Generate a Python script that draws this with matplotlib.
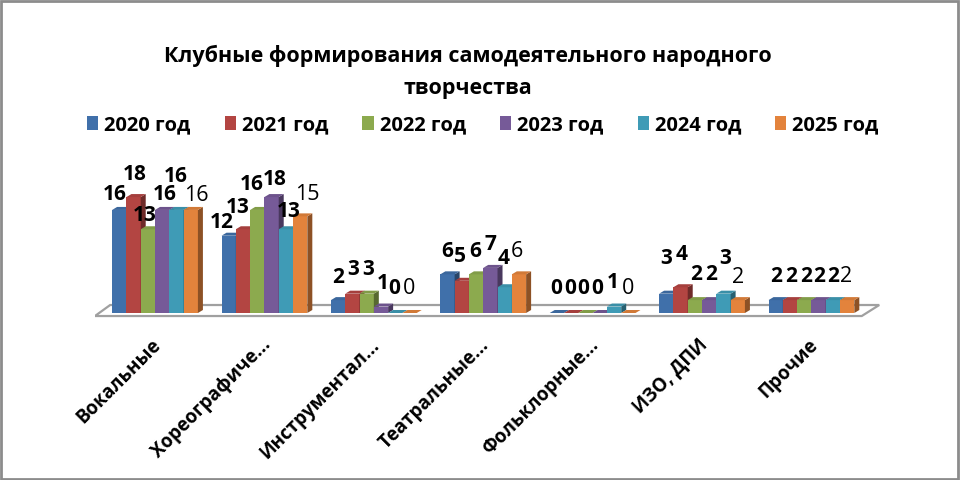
import matplotlib.pyplot as plt
from matplotlib.patches import Polygon, Rectangle
from matplotlib.transforms import ScaledTranslation
import numpy as np

plt.rcParams['font.family'] = ['Open Sans', 'DejaVu Sans']

categories = ['Вокальные', 'Хореографиче...', 'Инструментал...', 'Театральные...',
              'Фольклорные...', 'ИЗО, ДПИ', 'Прочие']
years = ['2020 год', '2021 год', '2022 год', '2023 год', '2024 год', '2025 год']
v2020 = [16, 12, 2, 6, 0, 3, 2]
v2021 = [18, 13, 3, 5, 0, 4, 2]
v2022 = [13, 16, 3, 6, 0, 2, 2]
v2023 = [16, 18, 1, 7, 0, 2, 2]
v2024 = [16, 13, 0, 4, 1, 3, 2]
v2025 = [16, 15, 0, 6, 0, 2, 2]
series = [v2020, v2021, v2022, v2023, v2024, v2025]

colors = ['#4070AA', '#B34542', '#8CAA4E', '#765A98', '#3F9BB6', '#E3833C']

# label nudges in pixels (Excel staggers the 3D labels)
lab_dy = [[15, 13, 23, 23, 24, 35, 24],
          [23, 22, 24, 24, 24, 33, 24],
          [14, 25, 24, 23, 24, 26, 24],
          [15, 18, 23, 23, 24, 26, 24],
          [33, 18, 24, 29, 24, 35, 24],
          [14, 22, 24, 23, 24, 23, 24]]
lab_dx = [[-5, -7, 0, 0, -1, 0, 0],
          [1, -5, 1, -2, -1, 1, 1],
          [-3, -6, 1, -1, -2, 1, 2],
          [3, 3, 2, 0, -3, 2, 1],
          [-1, 3, -1, -1, -1, 2, 0],
          [6, 7, -1, -2, 0, 0, -1]]


def shade(c, f):
    r, g, b = [int(c[i:i + 2], 16) / 255 for i in (1, 3, 5)]
    return (r * f, g * f, b * f)


fig = plt.figure(figsize=(9.6, 4.8), dpi=100)
ax = fig.add_axes([0.0988, 0.3278, 0.8205, 0.2885])
ax.set_xlim(-0.55, 6.65)
ax.set_ylim(-1.5, 20)

x = np.arange(len(categories))
w = 0.1307
ddx = 5 / 109.4   # depth offset
ddy = 3 / 6.44

# floor
floor = Polygon([(-0.549, -0.47), (6.46, -0.47), (6.62, 1.24), (-0.41, 1.24)],
                closed=True, facecolor='white', edgecolor='#a0a0a0', lw=1.6, zorder=1)
ax.add_patch(floor)

handles = []
for k, vals in enumerate(series):
    xs = x + (k - 2.5) * w
    bars = ax.bar(xs, vals, width=w, color=colors[k], edgecolor='none', zorder=2 + k * 3,
                  label=years[k])
    handles.append(bars)
    for i, b in enumerate(bars):
        x0 = b.get_x()
        x1 = x0 + w
        h = vals[i]
        top = Polygon([(x0, h), (x1, h), (x1 + ddx, h + ddy), (x0 + ddx, h + ddy)],
                      closed=True, facecolor=shade(colors[k], 0.92), edgecolor='none',
                      zorder=3 + k * 3)
        side = Polygon([(x1, 0), (x1 + ddx, ddy), (x1 + ddx, h + ddy), (x1, h)],
                       closed=True, facecolor=shade(colors[k], 0.62), edgecolor='none',
                       zorder=3 + k * 3)
        ax.add_patch(side)
        ax.add_patch(top)
        bold = k < 5
        ax.annotate(str(h), (x0 + w / 2, h), xytext=(lab_dx[k][i], lab_dy[k][i]),
                    textcoords='offset pixels', ha='center', va='center',
                    fontsize=15 if bold else 15.5,
                    fontweight='bold' if bold else 'normal',
                    color='black', zorder=40, annotation_clip=False)

ax.set_xticks(x, categories, rotation=45, ha='right', rotation_mode='anchor',
              fontsize=13.5, fontweight='bold')
ax.tick_params(axis='x', length=0, pad=9)
shift = ScaledTranslation(-0.04, 0, fig.dpi_scale_trans)
for lab in ax.get_xticklabels():
    lab.set_transform(lab.get_transform() + shift)
ax.set_yticks([])
for s in ax.spines.values():
    s.set_visible(False)
ax.patch.set_alpha(0)

fig.text(0.487, 0.850, 'Клубные формирования самодеятельного народного\nтворчества',
         ha='center', va='center', fontsize=15.5, fontweight='bold', linespacing=1.7)

fig.legend(handles=handles, loc='center', bbox_to_anchor=(0.503, 0.739), ncol=6,
           frameon=False, prop={'weight': 'bold', 'size': 14.5},
           handlelength=0.55, handleheight=0.65, handletextpad=0.3, columnspacing=1.7)

fig.add_artist(Rectangle((0.001, 0.002), 0.997, 0.995, transform=fig.transFigure,
                         fill=False, edgecolor='#8c8c8c', lw=2))

fig.savefig('out.png', dpi=100)
